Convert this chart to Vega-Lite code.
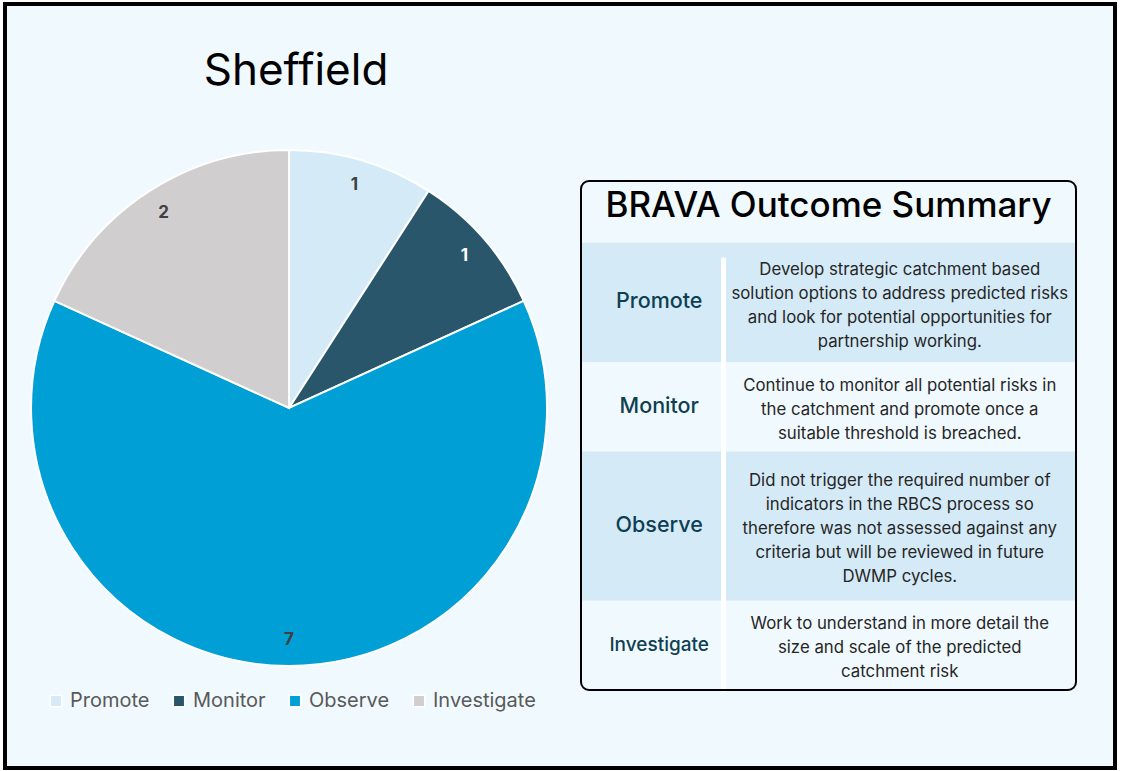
{
  "$schema": "https://vega.github.io/schema/vega-lite/v6.json",
  "width": 1110,
  "height": 764,
  "autosize": {"type": "none"},
  "padding": {"left": 5, "top": 4, "right": 20, "bottom": 3},
  "background": "#ffffff",
  "config": {
    "view": {"fill": "#f0f9fd", "stroke": "#000000", "strokeWidth": 4},
    "font": "Inter"
  },
  "title": {
    "text": "Sheffield",
    "anchor": "middle",
    "frame": "group",
    "dx": -264,
    "offset": -125,
    "fontSize": 44,
    "fontWeight": 400,
    "color": "#000000",
    "baseline": "alphabetic"
  },
  "datasets": {
    "outcomes": [
      {"order": 1, "category": "Promote", "count": 1, "lines": 4, "desc": "Develop strategic catchment based\nsolution options to address predicted risks\nand look for potential opportunities for\npartnership working."},
      {"order": 2, "category": "Monitor", "count": 1, "lines": 3, "desc": "Continue to monitor all potential risks in\nthe catchment and promote once a\nsuitable threshold is breached."},
      {"order": 3, "category": "Observe", "count": 7, "lines": 5, "desc": "Did not trigger the required number of\nindicators in the RBCS process so\ntherefore was not assessed against any\ncriteria but will be reviewed in future\nDWMP cycles."},
      {"order": 4, "category": "Investigate", "count": 2, "lines": 3, "desc": "Work to understand in more detail the\nsize and scale of the predicted\ncatchment risk"}
    ]
  },
  "data": {"name": "outcomes"},
  "layer": [
    {
      "encoding": {
        "x": {"datum": 0.2559, "type": "quantitative", "scale": {"domain": [0, 1], "nice": false, "zero": false}, "axis": null},
        "y": {"datum": 0.5288, "type": "quantitative", "scale": {"domain": [0, 1], "reverse": true, "nice": false, "zero": false}, "axis": null},
        "theta": {"field": "count", "type": "quantitative", "stack": true},
        "order": {"field": "order", "type": "quantitative"}
      },
      "layer": [
        {
          "mark": {"type": "arc", "outerRadius": 258, "stroke": "#ffffff", "strokeWidth": 2},
          "encoding": {
            "color": {
              "field": "category",
              "type": "nominal",
              "scale": {
                "domain": ["Promote", "Monitor", "Observe", "Investigate"],
                "range": ["#d4eaf7", "#29566a", "#009fd5", "#d0cece"]
              },
              "legend": {
                "orient": "none",
                "legendX": 41,
                "legendY": 687,
                "direction": "horizontal",
                "title": null,
                "symbolType": "square",
                "symbolSize": 130,
                "symbolStrokeColor": "#ffffff",
                "symbolStrokeWidth": 1.5,
                "symbolOpacity": 1,
                "labelFontSize": 20,
                "labelColor": "#595959",
                "labelOffset": 4,
                "columnPadding": 19
              }
            }
          }
        },
        {
          "mark": {"type": "text", "radius": 232, "fontSize": 17, "fontWeight": "bold"},
          "encoding": {
            "text": {"field": "count", "type": "quantitative"},
            "detail": {"field": "category", "type": "nominal"},
            "color": {"condition": {"test": "datum.category === 'Monitor'", "value": "#ffffff"}, "value": "#404040"}
          }
        }
      ]
    },
    {
      "layer": [
        {
          "mark": {"type": "bar", "orient": "vertical"},
          "encoding": {
            "x": {"datum": 0, "type": "quantitative", "scale": {"domain": [0, 100], "range": [576, 1071], "nice": false, "zero": false, "padding": 0}, "axis": null},
            "x2": {"datum": 100},
            "y": {"field": "lines", "type": "quantitative", "stack": "zero", "scale": {"domain": [-2.07, 15], "range": [177, 686], "nice": false, "zero": false, "padding": 0}, "axis": null},
            "order": {"field": "order", "type": "quantitative"},
            "detail": {"field": "category", "type": "nominal"},
            "fill": {"condition": {"test": "datum.order % 2 === 1", "value": "#d4eaf7"}, "value": "transparent"}
          }
        },
        {
          "data": {"values": [{}]},
          "mark": {"type": "rule", "stroke": "#ffffff", "strokeWidth": 5, "strokeCap": "round"},
          "encoding": {
            "x": {"datum": 28.8, "type": "quantitative"},
            "y": {"datum": 0.57, "type": "quantitative"},
            "y2": {"datum": 15}
          }
        },
        {
          "mark": {"type": "text", "fontWeight": 500, "fill": "#0e3f52", "align": "center", "baseline": "middle"},
          "encoding": {
            "x": {"datum": 15.8, "type": "quantitative"},
            "y": {"field": "lines", "type": "quantitative", "stack": "zero", "bandPosition": 0.5},
            "order": {"field": "order", "type": "quantitative"},
            "detail": {"field": "category", "type": "nominal"},
            "text": {"field": "category", "type": "nominal"},
            "size": {"condition": {"test": "datum.category === 'Investigate'", "value": 19}, "value": 21.5}
          }
        },
        {
          "mark": {"type": "text", "fontSize": 16.8, "lineBreak": "\n", "lineHeight": 24, "fill": "#262626", "align": "center", "baseline": "top", "dy": 7},
          "encoding": {
            "x": {"datum": 64.4, "type": "quantitative"},
            "y": {"field": "lines", "type": "quantitative", "stack": "zero", "bandPosition": 0.1},
            "order": {"field": "order", "type": "quantitative"},
            "detail": {"field": "category", "type": "nominal"},
            "text": {"field": "desc", "type": "nominal"}
          }
        },
        {
          "data": {"values": [{}]},
          "mark": {"type": "text", "fontSize": 35, "fontWeight": 500, "fill": "#000000", "align": "center", "baseline": "middle"},
          "encoding": {
            "x": {"datum": 50, "type": "quantitative"},
            "y": {"datum": -1.22, "type": "quantitative"},
            "text": {"value": "BRAVA Outcome Summary"}
          }
        },
        {
          "data": {"values": [{}]},
          "mark": {"type": "rect", "fill": "transparent", "stroke": "#000000", "strokeWidth": 2, "cornerRadius": 8},
          "encoding": {
            "x": {"datum": 0, "type": "quantitative"},
            "x2": {"datum": 100},
            "y": {"datum": -2.07, "type": "quantitative"},
            "y2": {"datum": 15}
          }
        }
      ]
    }
  ],
  "resolve": {"scale": {"x": "independent", "y": "independent"}}
}
